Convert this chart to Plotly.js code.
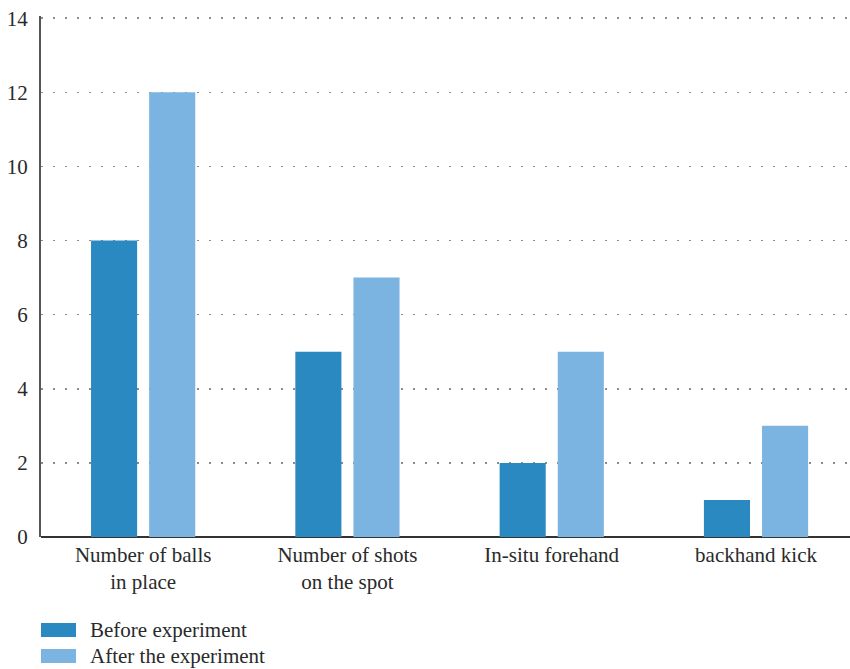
<!DOCTYPE html>
<html>
<head>
<meta charset="utf-8">
<script src="https://cdn.plot.ly/plotly-3.0.1.min.js"></script>
<style>html,body{margin:0;padding:0;background:#fff;}#chart{width:850px;height:669px;}</style>
</head>
<body>
<div id="chart"></div>
<script>
const categories = ["Number of balls<br>in place", "Number of shots<br>on the spot", "In-situ forehand", "backhand kick"];
const seriesNames = ["Before experiment", "After the experiment"];
const beforeValues = [8, 5, 2, 1];
const afterValues = [12, 7, 5, 3];
const yTickValues = [0, 2, 4, 6, 8, 10, 12, 14];

const colors = ["#2989c0", "#7bb4e0"];
const W = 850, H = 669;
const M = {l: 41, r: 0, t: 16, b: 132};
const plotH = H - M.t - M.b;
const plotW = W - M.l - M.r;
const font = "Liberation Serif, Times New Roman, serif";
const txtColor = "#2a2a2a";

function px2paperX(px){ return (px - M.l) / plotW; }
function px2paperY(py){ return (H - M.b - py) / plotH; }

const traces = [beforeValues, afterValues].map((vals, i) => ({
  type: "bar",
  name: seriesNames[i],
  x: categories,
  y: vals,
  marker: {color: colors[i], line: {width: 0}},
  hoverinfo: "x+y"
}));

const shapes = [];
const annotations = [];
const legendTops = [623, 649];
seriesNames.forEach((name, i) => {
  shapes.push({
    type: "rect", xref: "paper", yref: "paper",
    x0: px2paperX(41), x1: px2paperX(76),
    y0: px2paperY(legendTops[i]), y1: px2paperY(legendTops[i] + 14),
    fillcolor: colors[i], line: {width: 0}
  });
  annotations.push({
    xref: "paper", yref: "paper",
    x: px2paperX(88), y: px2paperY(legendTops[i] + 7),
    xanchor: "left", yanchor: "middle",
    text: name, showarrow: false,
    font: {family: font, size: 21, color: txtColor}
  });
});

const layout = {
  width: W, height: H,
  margin: M,
  paper_bgcolor: "#fff", plot_bgcolor: "#fff",
  showlegend: false,
  barmode: "group",
  bargap: 0.431,
  bargroupgap: 0.207,
  font: {family: font, size: 21, color: txtColor},
  xaxis: {
    type: "category",
    range: [-0.5, 3.46],
    showgrid: false,
    zeroline: false,
    showline: false,
    ticks: "",
    ticklabelstandoff: 3,
    tickfont: {family: font, size: 21, color: txtColor},
    fixedrange: true
  },
  yaxis: {
    range: [0, 14.06],
    tickvals: yTickValues,
    ticktext: yTickValues.map(String),
    showgrid: true,
    gridcolor: "#8a8a8a",
    gridwidth: 1.5,
    griddash: "1.5px,10.5px",
    zeroline: true,
    zerolinecolor: "#333",
    zerolinewidth: 2,
    showline: true,
    linecolor: "#555",
    linewidth: 2,
    ticks: "",
    ticklabelstandoff: 7,
    tickfont: {family: font, size: 21, color: txtColor},
    fixedrange: true
  },
  shapes: shapes,
  annotations: annotations
};

Plotly.newPlot("chart", traces, layout, {displayModeBar: false, staticPlot: true});
</script>
</body>
</html>
